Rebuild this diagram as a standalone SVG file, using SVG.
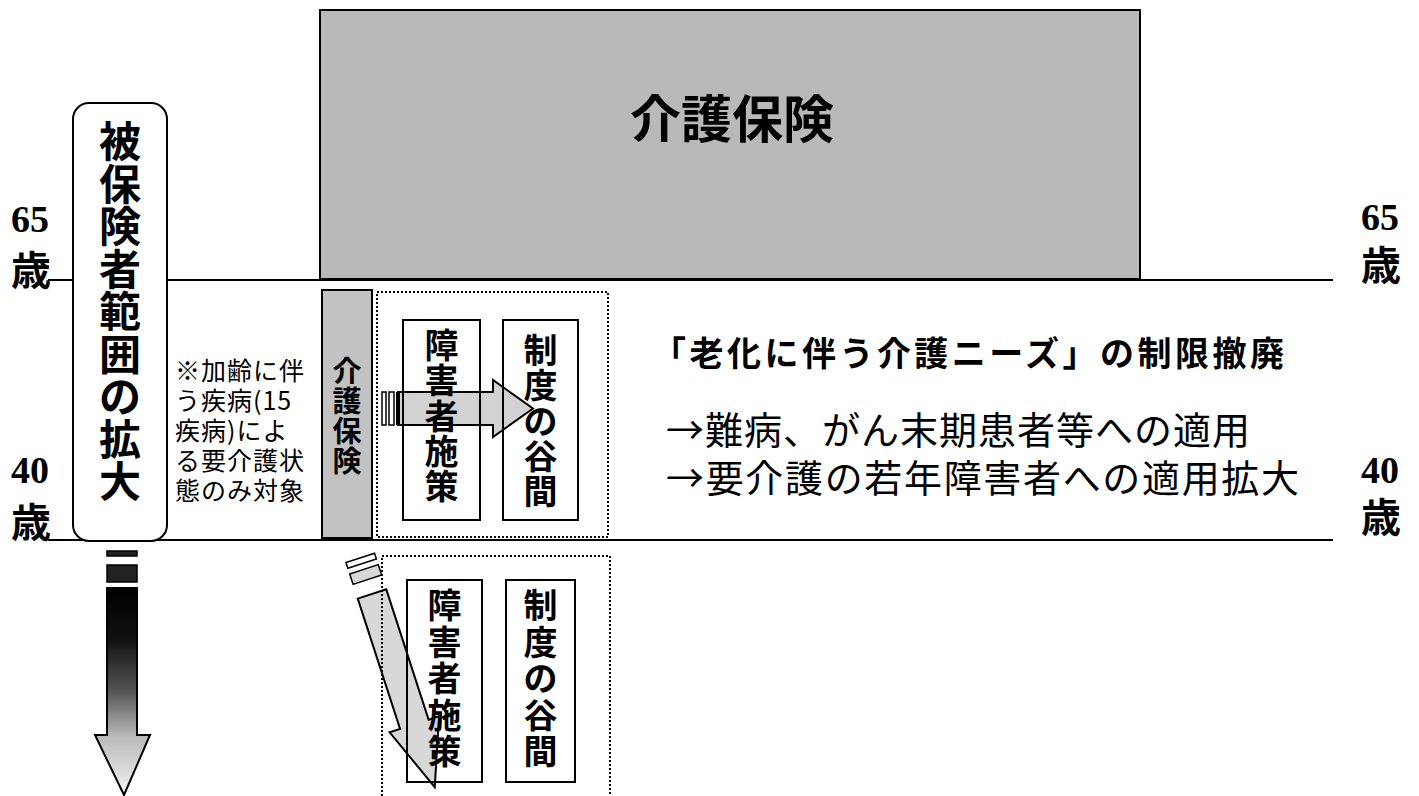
<svg xmlns="http://www.w3.org/2000/svg" width="1419" height="796" viewBox="0 0 1419 796">
<style>
.jp{font-family:"Noto Sans CJK JP","Noto Sans CJK SC",sans-serif;fill:#000}
.b{font-weight:bold}
.num{font-family:"Liberation Serif",serif;font-weight:bold;font-size:38px;fill:#000}
.box{fill:none;stroke:#000;stroke-width:2}
.dot{fill:none;stroke:#000;stroke-width:2;stroke-dasharray:2 2}
.ln{stroke:#000;stroke-width:2}
</style>
<defs>
<linearGradient id="fade" x1="0" y1="0" x2="0" y2="1">
<stop offset="0" stop-color="#000"/>
<stop offset="0.25" stop-color="#111"/>
<stop offset="0.5" stop-color="#555"/>
<stop offset="0.72" stop-color="#bbb"/>
<stop offset="1" stop-color="#f2f2f2"/>
</linearGradient>
</defs>

<g id="axes">
<line class="ln" x1="48" y1="280" x2="1333" y2="280"/>
<line class="ln" x1="48" y1="540" x2="1333" y2="540"/>
<text class="num" x="30" y="232" text-anchor="middle">65</text>
<text class="jp b" x="31" y="285" font-size="40" text-anchor="middle">歳</text>
<text class="num" x="30" y="483" text-anchor="middle">40</text>
<text class="jp b" x="31" y="537" font-size="40" text-anchor="middle">歳</text>
<text class="num" x="1380" y="230" text-anchor="middle">65</text>
<text class="jp b" x="1381" y="280" font-size="40" text-anchor="middle">歳</text>
<text class="num" x="1380" y="483" text-anchor="middle">40</text>
<text class="jp b" x="1381" y="532" font-size="40" text-anchor="middle">歳</text>
</g>

<g id="kaigo-hoken-main">
<rect x="320" y="10" width="820" height="269" fill="#b9b9b9" stroke="#000" stroke-width="2"/>
<text class="jp b" x="732" y="138" font-size="51" text-anchor="middle">介護保険</text>
</g>

<g id="expansion-label">
<rect x="73" y="103" width="94" height="438" rx="16" fill="#fff" stroke="#000" stroke-width="2"/>
<text class="jp b" font-size="42" text-anchor="middle">
<tspan x="120" y="157">被</tspan><tspan x="120" y="199.5">保</tspan><tspan x="120" y="242">険</tspan><tspan x="120" y="284.5">者</tspan><tspan x="120" y="327">範</tspan><tspan x="120" y="369.5">囲</tspan><tspan x="120" y="412">の</tspan><tspan x="120" y="454.5">拡</tspan><tspan x="120" y="497">大</tspan>
</text>
</g>

<g id="note">
<text class="jp" font-size="25" letter-spacing="1">
<tspan x="175" y="380">※加齢に伴</tspan>
<tspan x="175" y="410">う疾病(15</tspan>
<tspan x="175" y="440">疾病)によ</tspan>
<tspan x="175" y="470">る要介護状</tspan>
<tspan x="175" y="500">態のみ対象</tspan>
</text>
</g>

<g id="kaigo-hoken-small">
<rect x="322" y="290" width="50" height="248" fill="#c2c2c2" stroke="#000" stroke-width="2"/>
<text class="jp b" font-size="29" text-anchor="middle">
<tspan x="347" y="382">介</tspan><tspan x="347" y="412">護</tspan><tspan x="347" y="442">保</tspan><tspan x="347" y="472">険</tspan>
</text>
</g>

<g id="connectors">
<!-- left downward arrow -->
<rect x="107" y="551" width="30" height="5" fill="#222" stroke="#000" stroke-width="1.5"/>
<rect x="107" y="565" width="30" height="17" fill="#222" stroke="#000" stroke-width="1.5"/>
<path d="M107,588 H137 V735 H150 L124,795 L95,735 H107 Z" fill="url(#fade)" stroke="#000" stroke-width="2"/>
<!-- horizontal arrow -->
<rect x="382" y="392" width="4" height="33" fill="#fff" stroke="#000" stroke-width="1.5"/>
<rect x="389" y="392" width="5" height="33" fill="#fff" stroke="#000" stroke-width="1.5"/>
<path d="M398,392 H493 V380 L533,408.5 L493,437 V425 H398 Z" fill="#d2d2d2" stroke="#000" stroke-width="2"/>
<line x1="398" y1="392" x2="398" y2="425" stroke="#000" stroke-width="4"/>
<!-- diagonal arrow -->
<g transform="translate(372,594) rotate(-18)">
<rect x="-15" y="-38" width="30" height="6" fill="#fff" stroke="#000" stroke-width="1.5"/>
<rect x="-15" y="-26" width="30" height="11" fill="#d8d8d8" stroke="#000" stroke-width="1.5"/>
<path d="M-15,0 H15 V137 H26 L0,203 L-26,137 H-15 Z" fill="#d8d8d8" stroke="#000" stroke-width="2"/>
</g>
</g>

<g id="upper-group">
<rect class="dot" x="377" y="292" width="231" height="245"/>
</g>
<g id="upper-shogai">
<rect class="box" x="403" y="320" width="77" height="200"/>
<text class="jp b" font-size="34" text-anchor="middle">
<tspan x="441.5" y="358">障</tspan><tspan x="441.5" y="393.3">害</tspan><tspan x="441.5" y="428.6">者</tspan><tspan x="441.5" y="464">施</tspan><tspan x="441.5" y="499.2">策</tspan>
</text>
</g>
<g id="upper-tanima">
<rect class="box" x="503" y="320" width="75" height="200"/>
<text class="jp b" font-size="34" text-anchor="middle">
<tspan x="540.5" y="363">制</tspan><tspan x="540.5" y="398.3">度</tspan><tspan x="540.5" y="433.6">の</tspan><tspan x="540.5" y="469">谷</tspan><tspan x="540.5" y="504.2">間</tspan>
</text>
</g>

<g id="lower-group">
<path class="dot" d="M382,800 V556 H610 V800"/>
</g>
<g id="lower-shogai">
<rect class="box" x="407" y="580" width="75" height="202"/>
<text class="jp b" font-size="34" text-anchor="middle">
<tspan x="444.5" y="618">障</tspan><tspan x="444.5" y="654.6">害</tspan><tspan x="444.5" y="691.2">者</tspan><tspan x="444.5" y="727.8">施</tspan><tspan x="444.5" y="764.4">策</tspan>
</text>
</g>
<g id="lower-tanima">
<rect class="box" x="506" y="580" width="69" height="202"/>
<text class="jp b" font-size="34" text-anchor="middle">
<tspan x="540.5" y="618">制</tspan><tspan x="540.5" y="654.6">度</tspan><tspan x="540.5" y="691.2">の</tspan><tspan x="540.5" y="727.8">谷</tspan><tspan x="540.5" y="764.4">間</tspan>
</text>
</g>

<g id="explanation">
<text class="jp b" x="652" y="366" font-size="34" textLength="632" lengthAdjust="spacing">「老化に伴う介護ニーズ」の制限撤廃</text>
<text class="jp" x="666" y="444" font-size="38" textLength="584" lengthAdjust="spacing">→難病、がん末期患者等への適用</text>
<text class="jp" x="666" y="492" font-size="38" textLength="633" lengthAdjust="spacing">→要介護の若年障害者への適用拡大</text>
</g>
</svg>
